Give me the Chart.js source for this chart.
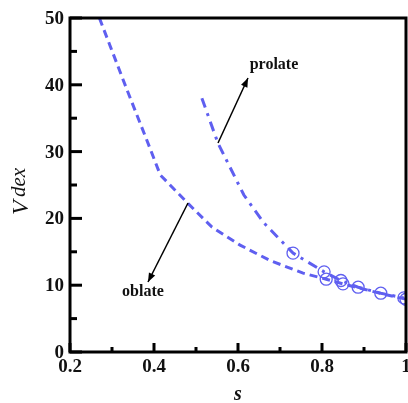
<!DOCTYPE html>
<html>
<head>
<meta charset="utf-8">
<script src="https://cdn.jsdelivr.net/npm/chart.js@4/dist/chart.umd.min.js"></script>
<style>
html,body{margin:0;padding:0;background:#fff;}
#wrap{width:408px;height:403px;position:relative;}
</style>
</head>
<body>
<div id="wrap"><canvas id="c" width="408" height="403"></canvas></div>
<script>
const oblateS = [0.27, 0.336, 0.383, 0.415, 0.48, 0.538, 0.605, 0.676, 0.755, 0.81, 0.85, 0.9, 0.95, 1.0];
const oblateV = [50, 39.2, 31.7, 26.5, 22.3, 18.7, 16.0, 13.7, 11.8, 10.9, 10.2, 9.4, 8.6, 7.9];
const oblateMarkers = [0,0,0,0,0,0,0,0,0,1,1,0,0,1];
const prolateS = [0.514, 0.552, 0.614, 0.662, 0.731, 0.805, 0.845, 0.886, 0.94, 0.995];
const prolateV = [38.0, 31.3, 23.5, 19.3, 14.8, 12.0, 10.7, 9.7, 8.8, 8.1];
const prolateMarkers = [0,0,0,0,1,1,1,1,1,1];
const xTicks = [0.2, 0.4, 0.6, 0.8, 1];
const xTickLabels = ['0.2', '0.4', '0.6', '0.8', '1'];
const yTicks = [0, 10, 20, 30, 40, 50];
const xMinor = [0.3, 0.5, 0.7, 0.9];
const yMinor = [5, 15, 25, 35, 45];

const blue = '#5f5ff0';
const toPts = (xs, ys) => xs.map((x, i) => ({x: x, y: ys[i]}));

const axesPlugin = {
  id: 'axesPlugin',
  afterDatasetsDraw(chart) {
    const ctx = chart.ctx;
    const a = chart.chartArea;
    const xs = chart.scales.x, ys = chart.scales.y;
    ctx.save();
    ctx.strokeStyle = '#000';
    ctx.lineWidth = 3;
    ctx.lineCap = 'square';
    ctx.beginPath();
    ctx.rect(a.left, a.top, a.right - a.left, a.bottom - a.top);
    ctx.stroke();
    ctx.lineCap = 'butt';
    ctx.lineWidth = 3;
    xTicks.forEach(v => {
      const px = xs.getPixelForValue(v);
      ctx.beginPath(); ctx.moveTo(px, a.bottom); ctx.lineTo(px, a.bottom - 9); ctx.stroke();
    });
    xMinor.forEach(v => {
      const px = xs.getPixelForValue(v);
      ctx.beginPath(); ctx.moveTo(px, a.bottom); ctx.lineTo(px, a.bottom - 5); ctx.stroke();
    });
    yTicks.forEach(v => {
      const py = ys.getPixelForValue(v);
      ctx.beginPath(); ctx.moveTo(a.left, py); ctx.lineTo(a.left + 12, py); ctx.stroke();
    });
    yMinor.forEach(v => {
      const py = ys.getPixelForValue(v);
      ctx.beginPath(); ctx.moveTo(a.left, py); ctx.lineTo(a.left + 7, py); ctx.stroke();
    });
    ctx.fillStyle = '#111';
    ctx.font = 'bold 19px "Liberation Serif", "Times New Roman", serif';
    ctx.textAlign = 'right'; ctx.textBaseline = 'middle';
    yTicks.forEach(v => {
      ctx.fillText(String(v), a.left - 6, ys.getPixelForValue(v) + 1);
    });
    ctx.textAlign = 'center'; ctx.textBaseline = 'top';
    xTicks.forEach((v, i) => {
      ctx.fillText(xTickLabels[i], xs.getPixelForValue(v), a.bottom + 6);
    });
    ctx.font = 'bold italic 20px "Liberation Serif", serif';
    ctx.textBaseline = 'alphabetic';
    ctx.fillText('s', (a.left + a.right) / 2, 400);
    ctx.save();
    ctx.translate(28, 185);
    ctx.rotate(-Math.PI / 2);
    ctx.textAlign = 'left';
    ctx.font = 'italic 24px "Liberation Serif", serif';
    ctx.fillText('V', -30, 0);
    ctx.font = 'italic 21px "Liberation Serif", serif';
    ctx.fillText('dex', -12, -3);
    ctx.restore();
    ctx.font = 'bold 16px "Liberation Serif", serif';
    ctx.textAlign = 'center'; ctx.textBaseline = 'middle';
    ctx.fillText('prolate', 274, 65);
    ctx.fillText('oblate', 143, 292);
    const arrow = (x1, y1, x2, y2) => {
      ctx.strokeStyle = '#000'; ctx.fillStyle = '#000'; ctx.lineWidth = 1.5;
      ctx.beginPath(); ctx.moveTo(x1, y1); ctx.lineTo(x2, y2); ctx.stroke();
      const ang = Math.atan2(y2 - y1, x2 - x1);
      const L = 9, W = 3.5;
      ctx.beginPath();
      ctx.moveTo(x2, y2);
      ctx.lineTo(x2 - L * Math.cos(ang) + W * Math.sin(ang), y2 - L * Math.sin(ang) - W * Math.cos(ang));
      ctx.lineTo(x2 - L * Math.cos(ang) - W * Math.sin(ang), y2 - L * Math.sin(ang) + W * Math.cos(ang));
      ctx.closePath(); ctx.fill();
    };
    arrow(218, 143, 248, 78);
    arrow(188, 203, 148, 282);
    ctx.restore();
  }
};

new Chart(document.getElementById('c'), {
  type: 'scatter',
  data: {
    datasets: [
      {
        label: 'oblate',
        data: toPts(oblateS, oblateV),
        showLine: true,
        borderColor: blue,
        borderWidth: 3,
        borderDash: [8, 5],
        pointRadius: oblateMarkers.map(m => m ? 6 : 0),
        pointBorderColor: blue,
        pointBackgroundColor: 'rgba(255,255,255,0)',
        pointBorderWidth: 1.3,
        tension: 0
      },
      {
        label: 'prolate',
        data: toPts(prolateS, prolateV),
        showLine: true,
        borderColor: blue,
        borderWidth: 3,
        borderDash: [10, 6, 3, 6],
        pointRadius: prolateMarkers.map(m => m ? 6 : 0),
        pointBorderColor: blue,
        pointBackgroundColor: 'rgba(255,255,255,0)',
        pointBorderWidth: 1.3,
        tension: 0
      }
    ]
  },
  options: {
    responsive: false,
    animation: false,
    events: [],
    layout: {autoPadding: false, padding: {top: 18, right: 2, left: 0, bottom: 0}},
    plugins: {legend: {display: false}, tooltip: {enabled: false}},
    scales: {
      x: {
        type: 'linear', min: 0.2, max: 1,
        grid: {display: false}, border: {display: false},
        ticks: {display: false},
        afterFit(s) { s.height = 51; s.paddingLeft = 0; s.paddingRight = 0; }
      },
      y: {
        type: 'linear', min: 0, max: 50,
        grid: {display: false}, border: {display: false},
        ticks: {display: false},
        afterFit(s) { s.width = 70; s.paddingTop = 0; s.paddingBottom = 0; }
      }
    }
  },
  plugins: [axesPlugin]
});
</script>
</body>
</html>
